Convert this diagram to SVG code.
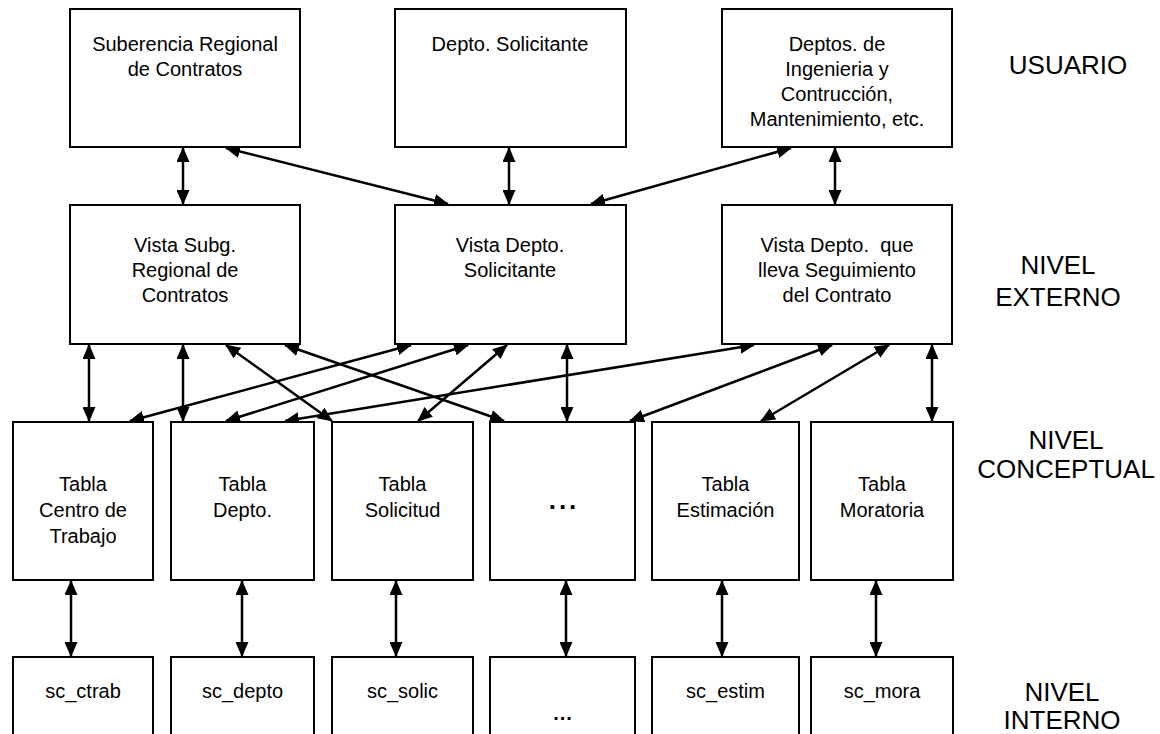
<svg xmlns="http://www.w3.org/2000/svg" width="1160" height="734" viewBox="0 0 1160 734">
<defs>
<style>
.box{fill:#fff;stroke:#000;stroke-width:2}
.t{font-family:"Liberation Sans",Arial,sans-serif;font-size:20px;fill:#000;text-anchor:middle}
.lvl{font-family:"Liberation Sans",Arial,sans-serif;font-size:26px;fill:#000;text-anchor:middle}
.dots{font-family:"Liberation Sans",Arial,sans-serif;font-size:26px;font-weight:bold;fill:#000;text-anchor:middle;letter-spacing:3px}
.dots2{font-family:"Liberation Sans",Arial,sans-serif;font-size:20px;font-weight:bold;fill:#000;text-anchor:middle;letter-spacing:1px}
.c{stroke:#000;stroke-width:2.5;fill:none;marker-start:url(#ah);marker-end:url(#ah)}
</style>
<marker id="ah" markerUnits="userSpaceOnUse" markerWidth="15" markerHeight="13" refX="14" refY="6.5" orient="auto-start-reverse">
<path d="M0,0 L15,6.5 L0,13 z" fill="#000"/>
</marker>
</defs>
<rect width="1160" height="734" fill="#fff"/>

<g id="connectors">
<line class="c" x1="183" y1="148" x2="183" y2="204"/>
<line class="c" x1="226" y1="148" x2="448" y2="204"/>
<line class="c" x1="509" y1="148" x2="509" y2="204"/>
<line class="c" x1="791" y1="148" x2="591" y2="204"/>
<line class="c" x1="835" y1="148" x2="835" y2="204"/>

<line class="c" x1="89" y1="345" x2="89" y2="421"/>
<line class="c" x1="183" y1="345" x2="183" y2="421"/>
<line class="c" x1="226" y1="345" x2="332" y2="421"/>
<line class="c" x1="285" y1="345" x2="504" y2="421"/>
<line class="c" x1="411" y1="345" x2="130" y2="421"/>
<line class="c" x1="468" y1="345" x2="226" y2="421"/>
<line class="c" x1="507" y1="345" x2="418" y2="421"/>
<line class="c" x1="567" y1="345" x2="567" y2="421"/>
<line class="c" x1="754" y1="345" x2="285" y2="421"/>
<line class="c" x1="832" y1="345" x2="630" y2="421"/>
<line class="c" x1="889" y1="345" x2="761" y2="421"/>
<line class="c" x1="932" y1="345" x2="932" y2="421"/>

<line class="c" x1="71" y1="581" x2="71" y2="656"/>
<line class="c" x1="242" y1="581" x2="242" y2="656"/>
<line class="c" x1="396" y1="581" x2="396" y2="656"/>
<line class="c" x1="566" y1="581" x2="566" y2="656"/>
<line class="c" x1="722" y1="581" x2="722" y2="656"/>
<line class="c" x1="876" y1="581" x2="876" y2="656"/>
</g>

<g id="u1"><rect class="box" x="70" y="9" width="230" height="138"/>
<text class="t" x="185" y="51">Suberencia Regional</text><text class="t" x="185" y="76">de Contratos</text></g>
<g id="u2"><rect class="box" x="395" y="9" width="231" height="138"/>
<text class="t" x="510" y="51">Depto. Solicitante</text></g>
<g id="u3"><rect class="box" x="722" y="9" width="230" height="138"/>
<text class="t" x="837" y="51">Deptos. de</text><text class="t" x="837" y="76">Ingenieria y</text><text class="t" x="837" y="101">Contrucción,</text><text class="t" x="837" y="126">Mantenimiento, etc.</text></g>

<g id="e1"><rect class="box" x="70" y="205" width="230" height="139"/>
<text class="t" x="185" y="252">Vista Subg.</text><text class="t" x="185" y="277">Regional de</text><text class="t" x="185" y="302">Contratos</text></g>
<g id="e2"><rect class="box" x="395" y="205" width="231" height="139"/>
<text class="t" x="510" y="252">Vista Depto.</text><text class="t" x="510" y="277">Solicitante</text></g>
<g id="e3"><rect class="box" x="722" y="205" width="230" height="139"/>
<text class="t" x="837" y="252" xml:space="preserve">Vista Depto.  que</text><text class="t" x="837" y="277">lleva Seguimiento</text><text class="t" x="837" y="302">del Contrato</text></g>

<g id="c1"><rect class="box" x="13" y="422" width="140" height="158"/>
<text class="t" x="83" y="491">Tabla</text><text class="t" x="83" y="517">Centro de</text><text class="t" x="83" y="543">Trabajo</text></g>
<g id="c2"><rect class="box" x="171" y="422" width="143" height="158"/>
<text class="t" x="242.5" y="491">Tabla</text><text class="t" x="242.5" y="517">Depto.</text></g>
<g id="c3"><rect class="box" x="332" y="422" width="141" height="158"/>
<text class="t" x="402.5" y="491">Tabla</text><text class="t" x="402.5" y="517">Solicitud</text></g>
<g id="c4"><rect class="box" x="490" y="422" width="145" height="158"/>
<text class="dots" x="564" y="509">...</text></g>
<g id="c5"><rect class="box" x="652" y="422" width="147" height="158"/>
<text class="t" x="725.5" y="491">Tabla</text><text class="t" x="725.5" y="517">Estimación</text></g>
<g id="c6"><rect class="box" x="811" y="422" width="142" height="158"/>
<text class="t" x="882" y="491">Tabla</text><text class="t" x="882" y="517">Moratoria</text></g>

<g id="i1"><rect class="box" x="13" y="657" width="140" height="100"/><text class="t" x="83" y="698">sc_ctrab</text></g>
<g id="i2"><rect class="box" x="171" y="657" width="143" height="100"/><text class="t" x="242.5" y="698">sc_depto</text></g>
<g id="i3"><rect class="box" x="332" y="657" width="141" height="100"/><text class="t" x="402.5" y="698">sc_solic</text></g>
<g id="i4"><rect class="box" x="490" y="657" width="145" height="100"/><text class="dots2" x="563" y="720">...</text></g>
<g id="i5"><rect class="box" x="652" y="657" width="147" height="100"/><text class="t" x="725.5" y="698">sc_estim</text></g>
<g id="i6"><rect class="box" x="811" y="657" width="142" height="100"/><text class="t" x="882" y="698">sc_mora</text></g>

<g id="levels">
<text class="lvl" x="1068" y="74">USUARIO</text>
<text class="lvl" x="1058" y="274">NIVEL</text><text class="lvl" x="1058" y="306">EXTERNO</text>
<text class="lvl" x="1066" y="449">NIVEL</text><text class="lvl" x="1066" y="478">CONCEPTUAL</text>
<text class="lvl" x="1062" y="701">NIVEL</text><text class="lvl" x="1062" y="729">INTERNO</text>
</g>
</svg>
